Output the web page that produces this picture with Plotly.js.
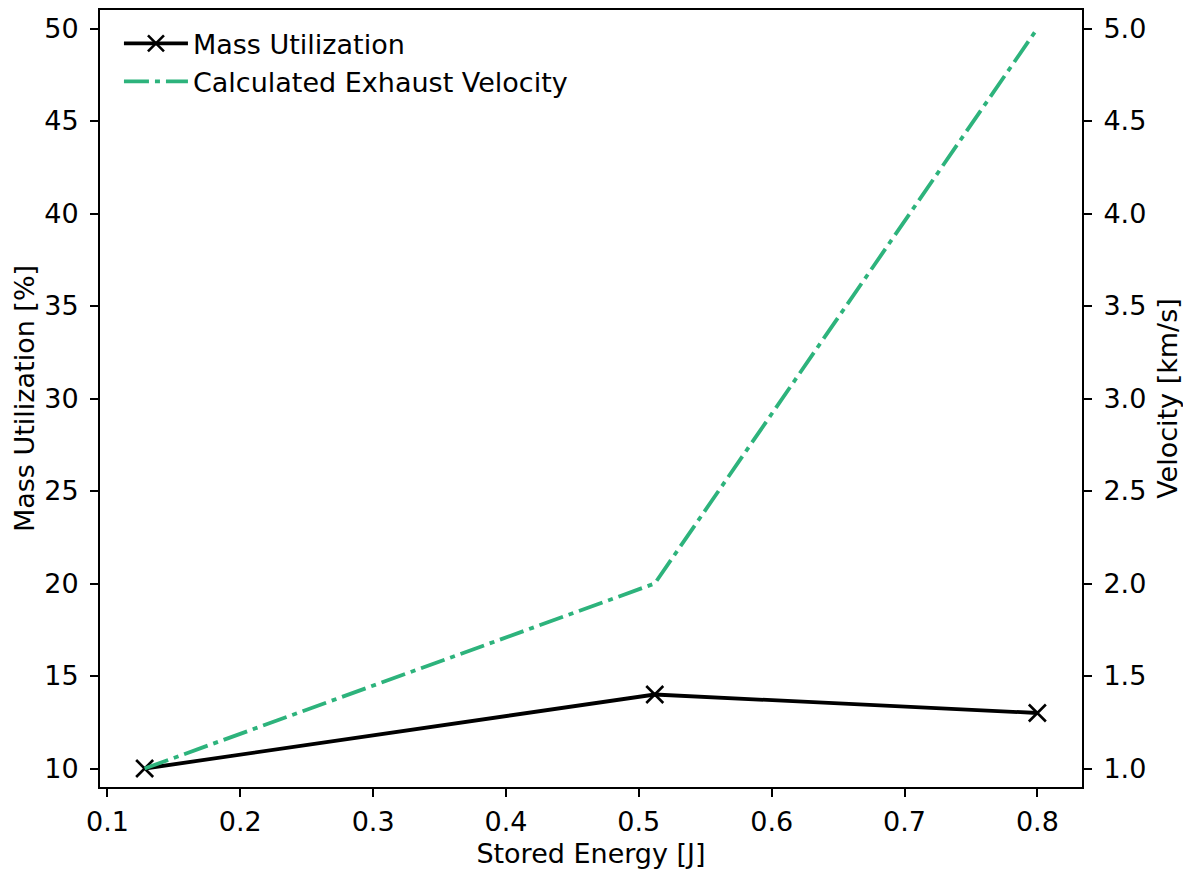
<!DOCTYPE html>
<html>
<head>
<meta charset="utf-8">
<script src="https://cdn.plot.ly/plotly-3.0.1.min.js"></script>
<style>html,body{margin:0;padding:0;background:#fff;}#chart{width:1183px;height:871px;}</style>
</head>
<body>
<div id="chart"></div>
<script>
const storedEnergy = [0.128, 0.512, 0.8];
const massUtilization = [10, 14, 13];
const exhaustVelocity = [1.0, 2.0, 5.0];
const seriesNames = ["Mass Utilization", "Calculated Exhaust Velocity"];
const xTicks = [0.1, 0.2, 0.3, 0.4, 0.5, 0.6, 0.7, 0.8];
const leftTicks = [10, 15, 20, 25, 30, 35, 40, 45, 50];
const rightTicks = [1.0, 1.5, 2.0, 2.5, 3.0, 3.5, 4.0, 4.5, 5.0];

const FONT = "DejaVu Sans, sans-serif";
const FS = 27;
const green = "#2db37c";

const traces = [
  {
    x: storedEnergy, y: massUtilization, name: seriesNames[0],
    type: "scatter", mode: "lines+markers",
    line: {color: "#000000", width: 3.8},
    marker: {symbol: "x-thin", size: 17, color: "#000000", line: {color: "#000000", width: 2.6}},
    xaxis: "x", yaxis: "y"
  },
  {
    x: storedEnergy, y: exhaustVelocity, name: seriesNames[1],
    type: "scatter", mode: "lines",
    line: {color: green, width: 3.8, dash: "25px,6px,5px,6px"},
    xaxis: "x", yaxis: "y2"
  }
];

const axisCommon = {
  showline: true, linecolor: "#000", linewidth: 2,
  ticks: "outside", ticklen: 8, tickwidth: 2, tickcolor: "#000",
  showgrid: false, zeroline: false,
  tickfont: {family: FONT, size: FS, color: "#000"}
};

const layout = {
  width: 1183, height: 871,
  paper_bgcolor: "#fff", plot_bgcolor: "#fff",
  margin: {l: 100, r: 101, t: 10, b: 84, pad: 0},
  font: {family: FONT, size: FS, color: "#000"},
  showlegend: true,
  legend: {
    x: 0.0193, y: 0.988, xanchor: "left", yanchor: "top",
    bgcolor: "rgba(255,255,255,0)", borderwidth: 0,
    itemwidth: 64,
    font: {family: FONT, size: FS, color: "#000"},
    tracegroupgap: 0
  },
  xaxis: Object.assign({}, axisCommon, {
    range: [0.0944, 0.8336], tickvals: xTicks, tickformat: ".1f",
    mirror: true, ticklabelstandoff: 2,
    title: {text: "Stored Energy [J]", font: {family: FONT, size: FS, color: "#000"}, standoff: 8}
  }),
  yaxis: Object.assign({}, axisCommon, {
    range: [9, 51], tickvals: leftTicks,
    ticklabelstandoff: 6,
    title: {text: "Mass Utilization [%]", font: {family: FONT, size: FS, color: "#000"}, standoff: 2}
  }),
  yaxis2: Object.assign({}, axisCommon, {
    range: [0.9, 5.1], tickvals: rightTicks, tickformat: ".1f",
    overlaying: "y", side: "right", ticklabelstandoff: 6,
    title: {text: "Velocity [km/s]", font: {family: FONT, size: FS, color: "#000"}, standoff: 14}
  })
};

Plotly.newPlot("chart", traces, layout, {displayModeBar: false, staticPlot: true});
</script>
</body>
</html>
